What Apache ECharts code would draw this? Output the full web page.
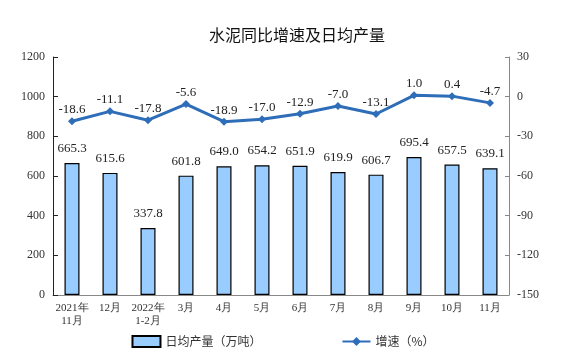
<!DOCTYPE html>
<html><head><meta charset="utf-8">
<script src="https://cdn.jsdelivr.net/npm/echarts@6/dist/echarts.min.js"></script>
<style>html,body{margin:0;padding:0;background:#fff}#c{width:566px;height:361px}</style>
</head><body><div id="c"></div>
<script>
const categories = ["2021年\n11月","12月","2022年\n1-2月","3月","4月","5月","6月","7月","8月","9月","10月","11月"];
const output = [665.3,615.6,337.8,601.8,649.0,654.2,651.9,619.9,606.7,695.4,657.5,639.1];
const growth = [-18.6,-11.1,-17.8,-5.6,-18.9,-17.0,-12.9,-7.0,-13.1,1.0,0.4,-4.7];
const serif = '"Liberation Serif","DejaVu Serif",serif';
const chart = echarts.init(document.getElementById('c'));
chart.setOption({
  animation:false,
  title:{text:'水泥同比增速及日均产量',left:204,top:22,textStyle:{fontSize:16,fontWeight:'normal',color:'#111',fontFamily:'"Noto Sans CJK SC",sans-serif'}},
  grid:{left:53,right:57,top:57,bottom:66},
  legend:{bottom:8,left:'center',itemGap:80,itemWidth:28,itemHeight:11,
    textStyle:{fontSize:12,color:'#333',fontFamily:'"Noto Sans CJK SC",serif'},
    data:[{name:'日均产量（万吨）',icon:'rect'},{name:'增速（%）'}]},
  xAxis:{type:'category',data:categories,
    axisLine:{lineStyle:{color:'#888',width:1}},
    axisTick:{inside:true,length:4,lineStyle:{color:'#888'}},
    axisLabel:{interval:0,fontSize:11,color:'#333',fontFamily:serif,margin:7,lineHeight:13}},
  yAxis:[{type:'value',min:0,max:1200,interval:200,
    axisLine:{show:true,lineStyle:{color:'#222'}},
    axisTick:{show:true,inside:true,length:5,lineStyle:{color:'#222'}},
    splitLine:{show:false},
    axisLabel:{fontSize:12,color:'#333',fontFamily:serif,margin:8,formatter:v=>String(v)}},
   {type:'value',min:-150,max:30,interval:30,
    axisLine:{show:true,lineStyle:{color:'#888'}},
    axisTick:{show:true,inside:true,length:4,lineStyle:{color:'#888'}},
    splitLine:{show:false},
    axisLabel:{fontSize:12,color:'#333',fontFamily:serif,margin:8,formatter:v=>String(v)}}],
  series:[
   {name:'日均产量（万吨）',type:'bar',data:output,barWidth:15,yAxisIndex:0,
    itemStyle:{color:'#99CCFF',borderColor:'#000',borderWidth:1.2},
    label:{show:true,position:'top',distance:8,fontSize:13,color:'#222',fontFamily:serif,formatter:p=>p.value.toFixed(1)}},
   {name:'增速（%）',type:'line',data:growth,yAxisIndex:1,
    symbol:'diamond',symbolSize:8,
    lineStyle:{color:'#2E6DB8',width:3},itemStyle:{color:'#2E6DB8'},
    label:{show:true,position:'top',distance:1,fontSize:13,color:'#222',fontFamily:serif,formatter:p=>p.value.toFixed(1)}}
  ]
});
</script></body></html>
